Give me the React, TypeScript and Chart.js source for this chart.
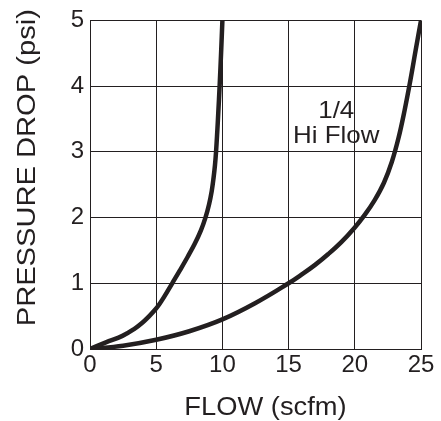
import React, { useEffect, useRef } from "react";
import { Chart, registerables } from "chart.js";

Chart.register(...registerables);

// Axis ticks
const FLOW_MIN = 0;
const FLOW_MAX = 25;
const FLOW_STEP = 5;
const DROP_MIN = 0;
const DROP_MAX = 5;
const DROP_STEP = 1;

// Left (steep) curve
const steepFlow = [0, 1.2, 2.45, 3.3, 3.95, 4.47, 4.93, 5.3, 5.62, 6.21, 6.8, 7.37, 7.91, 8.37, 8.72, 8.99, 9.19, 9.33, 9.44, 9.52, 9.61, 9.69, 9.79, 9.9, 10];
const steepDrop = [0, 0.1, 0.2, 0.3, 0.4, 0.5, 0.6, 0.7, 0.8, 1.0, 1.2, 1.4, 1.6, 1.8, 2.0, 2.2, 2.4, 2.6, 2.8, 3.0, 3.3, 3.6, 4.0, 4.5, 5.0];

// Right (1/4 Hi Flow) curve
const hiFlow = [0, 2.5, 5, 7.5, 10, 12.5, 15, 16, 17, 18, 19, 20, 20.75, 21.5, 22.2, 22.8, 23.3, 23.75, 24.2, 24.6, 25];
const hiDrop = [0, 0.05, 0.14, 0.27, 0.45, 0.7, 1.0, 1.135, 1.28, 1.445, 1.63, 1.85, 2.04, 2.265, 2.53, 2.85, 3.21, 3.62, 4.09, 4.55, 5.0];

// Texts
const X_TITLE = "FLOW (scfm)";
const Y_TITLE = "PRESSURE DROP (psi)";
const LABEL_LINES = ["1/4", "Hi Flow"];
const LABEL_FLOW = 18.6;
const LABEL_DROP = [3.52, 3.13];

const INK = "#231f20";
const FONT = '"Liberation Sans", Arial, Helvetica, sans-serif';

const textPlugin = {
  id: "customTexts",
  afterDraw(chart: any) {
    const { ctx, chartArea, scales } = chart;
    const x = scales.x;
    const y = scales.y;
    ctx.save();
    ctx.fillStyle = INK;
    ctx.textAlign = "center";
    ctx.textBaseline = "alphabetic";

    // annotation
    ctx.font = `24px ${FONT}`;
    LABEL_LINES.forEach((t, i) => {
      const px = x.getPixelForValue(LABEL_FLOW);
      const py = y.getPixelForValue(LABEL_DROP[i]);
      ctx.save();
      ctx.translate(px, py);
      ctx.scale(1.08, 1);
      ctx.fillText(t, 0, 0);
      ctx.restore();
    });

    // x title
    ctx.font = `26px ${FONT}`;
    ctx.save();
    ctx.translate((chartArea.left + chartArea.right) / 2 + 10, chartArea.bottom + 66);
    ctx.scale(1.05, 1);
    ctx.fillText(X_TITLE, 0, 0);
    ctx.restore();

    // y title
    ctx.save();
    ctx.translate(35, (chartArea.top + chartArea.bottom) / 2 - 17);
    ctx.rotate(-Math.PI / 2);
    ctx.scale(1.12, 1);
    ctx.fillText(Y_TITLE, 0, 0);
    ctx.restore();

    ctx.restore();
  },
};

export default function App() {
  const ref = useRef<HTMLCanvasElement | null>(null);

  useEffect(() => {
    if (!ref.current) return;
    const chart = new Chart(ref.current, {
      type: "line",
      data: {
        datasets: [
          {
            label: "steep",
            data: steepFlow.map((f, i) => ({ x: f, y: steepDrop[i] })),
            borderColor: INK,
            borderWidth: 4.5,
            pointRadius: 0,
            tension: 0.4,
            fill: false,
          },
          {
            label: "1/4 Hi Flow",
            data: hiFlow.map((f, i) => ({ x: f, y: hiDrop[i] })),
            borderColor: INK,
            borderWidth: 4.5,
            pointRadius: 0,
            tension: 0.4,
            fill: false,
          },
        ],
      },
      options: {
        responsive: false,
        animation: false,
        devicePixelRatio: 1,
        layout: { padding: { left: 0, top: 18, right: 20, bottom: 0 } },
        plugins: {
          legend: { display: false },
          tooltip: { enabled: false },
          title: { display: false },
        },
        scales: {
          x: {
            type: "linear",
            min: FLOW_MIN,
            max: FLOW_MAX,
            ticks: {
              stepSize: FLOW_STEP,
              color: INK,
              font: { size: 24, family: FONT },
              padding: 2,
              maxRotation: 0,
            },
            grid: { color: INK, lineWidth: 1, drawTicks: false },
            border: { color: INK, width: 1 },
            afterFit: (s: any) => {
              s.height = 72;
            },
          },
          y: {
            type: "linear",
            min: DROP_MIN,
            max: DROP_MAX,
            ticks: {
              stepSize: DROP_STEP,
              color: INK,
              font: { size: 24, family: FONT },
              padding: 6,
            },
            grid: { color: INK, lineWidth: 1, drawTicks: false },
            border: { color: INK, width: 1 },
            afterFit: (s: any) => {
              s.width = 90;
            },
          },
        },
      },
      plugins: [textPlugin],
    });
    return () => chart.destroy();
  }, []);

  return (
    <div style={{ position: "absolute", left: 0, top: 0, width: 441, height: 421, background: "#fff" }}>
      <canvas ref={ref} width={441} height={421} />
    </div>
  );
}
